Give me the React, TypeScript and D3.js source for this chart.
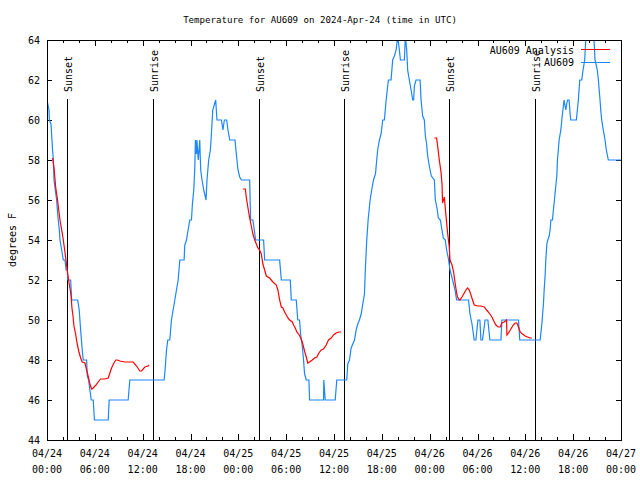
import React from 'react';
import * as d3 from 'd3';

// hours since 2024-04-24 00:00 UTC, temperature (F)
const obsSeries: [number, number][] = [
  [0.00,61.0],[0.25,60.5],[0.30,60.0],[0.50,59.8],[0.62,59.0],[0.70,58.5],[0.80,58.0],[0.88,57.0],
  [1.04,56.5],[1.21,56.0],[1.30,55.5],[1.41,55.0],[1.55,54.5],[1.63,54.0],[1.84,53.5],[2.04,53.0],
  [2.25,53.0],[2.40,52.5],[2.55,52.5],[2.59,52.0],[2.97,52.0],[3.09,51.0],[3.85,51.0],[4.04,50.5],
  [4.22,49.5],[4.42,48.5],[4.55,48.0],[4.97,48.0],[5.05,47.2],[5.22,47.0],[5.38,46.5],[5.55,46.0],
  [5.80,46.0],[5.95,45.0],[7.68,45.0],[7.80,46.0],[10.18,46.0],[10.39,47.0],[14.69,47.0],[14.81,47.5],
  [14.99,48.5],[15.15,49.0],[15.40,49.0],[15.61,50.0],[15.82,50.5],[16.03,51.0],[16.24,51.5],[16.45,52.0],
  [16.66,53.0],[17.20,53.0],[17.28,53.75],[17.49,54.0],[17.70,54.5],[17.91,55.0],[18.12,55.0],[18.24,55.8],
  [18.41,56.5],[18.53,57.5],[18.62,59.0],[18.75,58.3],[18.80,59.0],[18.98,58.0],[19.16,59.0],[19.28,57.5],
  [19.45,57.0],[19.66,56.5],[19.95,56.0],[20.07,57.0],[20.28,58.0],[20.49,58.5],[20.58,59.0],[20.79,60.5],
  [21.16,61.0],[21.32,60.0],[21.88,60.0],[22.07,59.5],[22.25,60.0],[22.53,60.0],[22.70,59.5],[22.92,59.0],
  [23.58,59.0],[23.75,58.3],[23.96,57.5],[24.17,57.15],[24.38,57.0],[25.42,57.0],[25.54,55.0],[25.83,55.0],
  [26.17,54.0],[27.17,54.0],[27.30,53.0],[29.18,53.0],[29.39,52.0],[30.52,52.0],[30.64,51.0],[31.27,51.0],
  [31.45,50.0],[31.68,50.0],[31.81,49.3],[32.02,48.7],[32.18,48.0],[32.31,47.3],[32.52,47.0],[32.85,47.0],
  [32.94,46.0],[34.69,46.0],[34.72,47.0],[34.90,46.0],[36.15,46.0],[36.27,46.6],[36.35,47.0],[37.60,47.0],
  [37.73,47.8],[37.94,48.0],[38.15,48.6],[38.57,49.0],[38.78,49.5],[38.98,49.8],[39.19,50.0],[39.41,50.3],
  [39.61,50.8],[39.82,51.3],[39.95,52.7],[40.11,54.0],[40.28,55.0],[40.53,56.0],[40.73,56.5],[40.95,57.0],
  [41.20,57.3],[41.36,58.0],[41.48,58.5],[41.70,59.0],[41.91,59.3],[42.11,60.0],[42.32,60.0],[42.54,61.0],
  [42.82,62.0],[43.16,62.0],[43.36,63.0],[43.58,63.2],[43.79,63.5],[43.99,64.2],[44.20,63.5],[44.33,63.0],
  [44.83,63.0],[44.95,64.2],[45.12,63.5],[45.24,62.5],[45.45,62.0],[45.67,61.5],[45.87,61.0],[45.99,61.0],
  [46.08,61.7],[46.29,62.0],[46.80,62.0],[46.92,61.0],[47.12,60.2],[47.33,60.0],[47.46,59.2],[47.62,58.8],
  [47.75,58.2],[47.87,57.9],[48.05,57.5],[48.21,57.2],[48.59,57.0],[48.71,56.0],[48.92,55.6],[49.09,55.1],
  [49.34,55.0],[49.46,54.7],[49.71,54.1],[49.96,54.0],[50.13,53.5],[50.38,53.0],[50.55,52.5],[50.88,52.0],
  [51.18,51.5],[51.38,51.0],[52.88,51.0],[53.06,50.3],[53.31,49.8],[53.59,49.0],[53.80,49.0],[54.05,50.0],
  [54.30,50.0],[54.43,49.0],[54.63,49.0],[54.95,50.0],[55.30,50.0],[55.55,49.0],[56.94,49.0],[57.06,50.0],
  [59.14,50.0],[59.30,49.0],[61.86,49.0],[61.94,49.3],[62.07,49.8],[62.15,50.2],[62.27,50.8],[62.36,51.5],
  [62.48,52.2],[62.57,53.0],[62.70,53.8],[62.82,54.0],[62.99,54.2],[63.11,54.5],[63.20,55.0],[63.40,55.0],
  [63.52,55.5],[63.70,56.2],[63.82,56.7],[63.95,57.2],[64.03,58.0],[64.24,59.0],[64.45,59.5],[64.65,60.3],
  [64.86,61.0],[65.07,60.5],[65.28,61.0],[65.49,61.0],[65.62,60.3],[65.70,60.0],[66.40,60.0],[66.53,60.5],
  [66.65,61.0],[66.83,62.0],[67.08,62.0],[67.24,62.5],[67.45,63.0],[67.58,64.0],[67.75,64.5],[68.45,64.5],
  [68.62,64.0],[68.74,63.0],[69.03,62.5],[69.16,62.0],[69.33,61.2],[69.46,60.5],[69.58,60.0],[69.78,59.5],
  [70.00,59.0],[70.16,58.5],[70.41,58.0],[72.00,58.0],
];

const analysisNight1: [number, number][] = [
  [0.70,58.1],[0.88,57.6],[1.10,56.6],[1.29,56.1],[1.41,55.7],[1.63,55.0],[1.97,54.2],[2.25,53.4],
  [2.57,52.4],[2.75,51.9],[3.00,51.3],[3.13,50.6],[3.26,50.2],[3.38,49.7],[3.59,49.3],[3.79,48.8],
  [4.01,48.4],[4.22,48.1],[4.42,47.9],[4.76,47.85],[4.97,47.5],[5.22,47.1],[5.38,46.8],[5.60,46.55],
  [5.80,46.6],[6.14,46.75],[6.42,46.9],[6.72,47.05],[7.26,47.05],[7.68,47.1],[7.89,47.35],[8.10,47.6],
  [8.39,47.85],[8.64,48.0],[8.80,48.0],[9.14,47.95],[9.77,47.9],[10.81,47.9],[11.23,47.7],[11.65,47.45],
  [11.86,47.45],[12.27,47.65],[12.68,47.7],[12.81,47.75],
];
const analysisNight2: [number, number][] = [
  [24.58,56.55],[24.88,56.55],[25.01,56.1],[25.21,55.6],[25.42,55.1],[25.63,54.7],[25.83,54.3],[26.05,54.0],
  [26.26,53.8],[26.46,53.6],[26.67,53.5],[26.88,53.3],[27.08,52.8],[27.30,52.5],[27.51,52.2],[27.92,52.1],
  [28.34,51.9],[28.76,51.75],[28.96,51.5],[29.18,51.0],[29.39,50.65],[29.59,50.6],[29.80,50.4],[30.02,50.25],
  [30.22,50.1],[30.43,50.0],[30.77,49.9],[30.93,49.75],[31.14,49.6],[31.34,49.4],[31.56,49.3],[31.77,49.15],
  [32.02,48.9],[32.18,48.65],[32.34,48.4],[32.52,48.15],[32.72,47.85],[32.93,47.9],[33.27,48.0],[33.56,48.1],
  [33.85,48.15],[34.10,48.35],[34.40,48.5],[34.69,48.55],[35.02,48.75],[35.31,49.0],[35.65,49.1],[35.94,49.25],
  [36.28,49.35],[36.60,49.4],[36.90,49.4],
];
const analysisNight3: [number, number][] = [
  [48.59,59.1],[48.87,59.1],[49.00,58.7],[49.21,58.0],[49.42,57.4],[49.55,56.8],[49.62,55.85],[49.84,56.15],
  [49.96,55.6],[50.13,54.85],[50.25,54.35],[50.46,53.65],[50.55,53.0],[50.80,52.75],[51.00,52.4],[51.21,51.8],
  [51.38,51.35],[51.50,51.15],[51.71,51.0],[51.80,51.0],[52.05,51.15],[52.34,51.35],[52.55,51.5],[52.75,51.6],
  [52.97,51.5],[53.18,51.25],[53.38,51.0],[53.59,50.75],[54.01,50.7],[54.43,50.7],[54.85,50.65],[55.14,50.5],
  [55.47,50.35],[55.81,50.15],[56.10,49.9],[56.31,49.75],[56.60,49.65],[56.85,49.65],[57.06,49.85],[57.35,49.9],
  [57.64,50.0],[57.69,49.25],[57.89,49.35],[58.19,49.55],[58.48,49.75],[58.73,49.85],[58.94,49.85],[59.14,49.65],
  [59.35,49.4],[59.64,49.3],[59.98,49.2],[60.27,49.15],[60.57,49.1],[60.82,49.1],
];

const eventLabels = ['Sunset', 'Sunrise', 'Sunset', 'Sunrise', 'Sunset', 'Sunrise'];
const eventHours = [2.54, 13.31, 26.58, 37.23, 50.46, 61.23];

const yTicks = [44, 46, 48, 50, 52, 54, 56, 58, 60, 62, 64];
const xMajorTicks = [0, 6, 12, 18, 24, 30, 36, 42, 48, 54, 60, 66, 72];
const xTickDates = ['04/24', '04/24', '04/24', '04/24', '04/25', '04/25', '04/25', '04/25', '04/26', '04/26', '04/26', '04/26', '04/27'];
const xTickTimes = ['00:00', '06:00', '12:00', '18:00', '00:00', '06:00', '12:00', '18:00', '00:00', '06:00', '12:00', '18:00', '00:00'];

const titleText = 'Temperature for AU609 on 2024-Apr-24 (time in UTC)';
const yLabel = 'degrees F';
const legendNames = ['AU609 Analysis', 'AU609'];

const BLUE = '#1a86ff';
const RED = '#ff0000';
const FONT = '"DejaVu Sans Mono", "Liberation Mono", monospace';

export default function App() {
  const W = 640, H = 480;
  const L = 47, R = 621, T = 40, B = 440;
  const x = d3.scaleLinear().domain([0, 72]).range([L, R]);
  const y = d3.scaleLinear().domain([44, 64]).range([B, T]);
  const line = d3.line<[number, number]>().x(d => x(d[0])).y(d => y(d[1]));
  const minor = d3.range(0, 73, 2).filter(h => h % 6 !== 0);
  const fs = 10;

  return (
    <svg width={W} height={H} style={{ position: 'absolute', left: 0, top: 0, background: '#fff' }}
      fontFamily={FONT} fontSize={fs}>
      <defs>
        <clipPath id="plotclip"><rect x={L} y={T} width={R - L} height={B - T} /></clipPath>
      </defs>
      <rect x={0} y={0} width={W} height={H} fill="#fff" />
      <text x={320} y={23} textAnchor="middle" fill="#000" fontSize={9.1}>{titleText}</text>
      <text transform={`translate(16,${(T + B) / 2}) rotate(-90)`} textAnchor="middle" fill="#000">{yLabel}</text>

      {yTicks.map(v => (
        <g key={'y' + v}>
          <line x1={L} x2={L + 5} y1={Math.round(y(v)) + 0.5} y2={Math.round(y(v)) + 0.5} stroke="#000" />
          <line x1={R - 5} x2={R} y1={Math.round(y(v)) + 0.5} y2={Math.round(y(v)) + 0.5} stroke="#000" />
          <text x={40} y={y(v) + 4} textAnchor="end" fill="#000">{v}</text>
        </g>
      ))}
      {xMajorTicks.map((h, i) => (
        <g key={'x' + h}>
          <line x1={Math.round(x(h)) + 0.5} x2={Math.round(x(h)) + 0.5} y1={B} y2={B - 6} stroke="#000" />
          <line x1={Math.round(x(h)) + 0.5} x2={Math.round(x(h)) + 0.5} y1={T} y2={T + 6} stroke="#000" />
          <text x={x(h)} y={457} textAnchor="middle" fill="#000">{xTickDates[i]}</text>
          <text x={x(h)} y={473} textAnchor="middle" fill="#000">{xTickTimes[i]}</text>
        </g>
      ))}
      {minor.map(h => (
        <g key={'m' + h}>
          <line x1={Math.round(x(h)) + 0.5} x2={Math.round(x(h)) + 0.5} y1={B} y2={B - 3} stroke="#000" />
          <line x1={Math.round(x(h)) + 0.5} x2={Math.round(x(h)) + 0.5} y1={T} y2={T + 3} stroke="#000" />
        </g>
      ))}

      {eventHours.map((h, i) => (
        <g key={'e' + i}>
          <line x1={Math.round(x(h)) + 0.5} x2={Math.round(x(h)) + 0.5} y1={B} y2={99} stroke="#000" />
          <text transform={`translate(${Math.round(x(h)) + 5},92) rotate(-90)`} fill="#000">{eventLabels[i]}</text>
        </g>
      ))}

      <g clipPath="url(#plotclip)" fill="none">
        <path d={line(obsSeries) || ''} stroke={BLUE} strokeWidth={1.2} />
        {[analysisNight1, analysisNight2, analysisNight3].map((s, i) => (
          <path key={'a' + i} d={line(s) || ''} stroke={RED} strokeWidth={1.2} />
        ))}
      </g>

      <text x={574} y={54} textAnchor="end" fill="#000">{legendNames[0]}</text>
      <line x1={581} x2={610} y1={49.5} y2={49.5} stroke={RED} />
      <text x={574} y={66} textAnchor="end" fill="#000">{legendNames[1]}</text>
      <line x1={581} x2={610} y1={62.5} y2={62.5} stroke={BLUE} />

      <rect x={L + 0.5} y={T + 0.5} width={R - L} height={B - T} fill="none" stroke="#000" />
    </svg>
  );
}
